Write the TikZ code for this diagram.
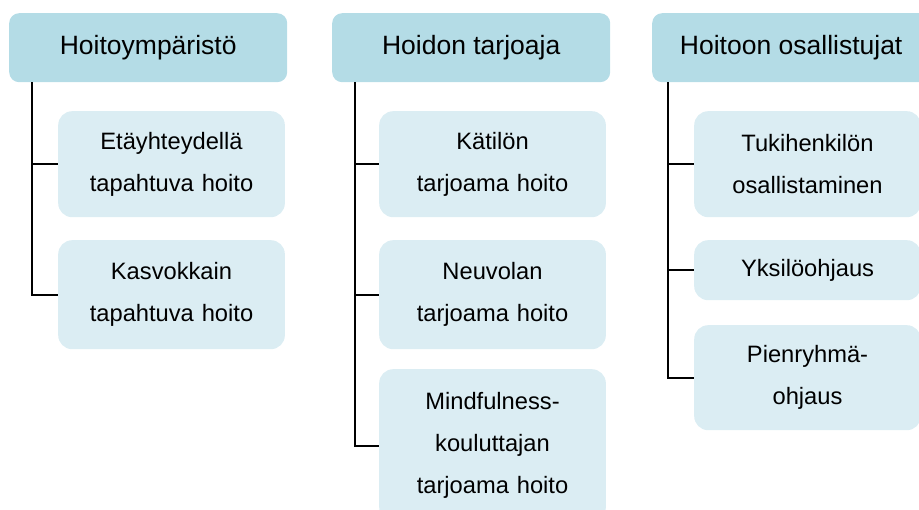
\documentclass[tikz,border=0pt]{standalone}
\usepackage{fontspec}
\setmainfont{Liberation Sans}
\definecolor{headfill}{RGB}{180,220,230}
\definecolor{childfill}{RGB}{219,237,243}
\tikzset{
  head/.style={fill=headfill, rounded corners=10pt, minimum width=278pt, minimum height=69pt, font=\fontsize{26.5}{32}\selectfont, anchor=north west},
  child/.style={fill=childfill, rounded corners=14pt, minimum width=226pt, align=center, font=\fontsize{23.7}{42}\selectfont, anchor=north west, text width=220pt},
  conn/.style={line width=2pt, black}
}
\begin{document}
\begin{tikzpicture}[x=1pt,y=-1pt]
\useasboundingbox (0,0) rectangle (919,510);
\clip (0,0) rectangle (919,510);
% headers
\node[head] (h1) at (9,13) {Hoitoympäristö};
\node[head] (h2) at (332,13) {Hoidon tarjoaja};
\node[head] (h3) at (652,13) {Hoitoon osallistujat};
% column 1
\node[child, minimum height=106pt] (a1) at (58,111) {Etäyhteydellä\\tapahtuva hoito};
\node[child, minimum height=109pt] (a2) at (58,240) {Kasvokkain\\tapahtuva hoito};
% column 2
\node[child, minimum height=106pt] (b1) at (379,111) {Kätilön\\tarjoama hoito};
\node[child, minimum height=109pt] (b2) at (379,240) {Neuvolan\\tarjoama hoito};
\node[child, minimum height=152pt] (b3) at (379,369) {Mindfulness-\\kouluttajan\\tarjoama hoito};
% column 3
\node[child, minimum height=106pt] (c1) at (694,111) {Tukihenkilön\\osallistaminen};
\node[child, minimum height=60pt] (c2) at (694,240) {Yksilöohjaus};
\node[child, minimum height=105pt] (c3) at (694,325) {Pienryhmä-\\ohjaus};
% connectors
\coordinate (t1) at (32,0);
\coordinate (t2) at (355,0);
\coordinate (t3) at (668,0);
\draw[conn] (t1 |- h1.south) |- (a2.west);
\draw[conn] (t1 |- a1.west) -- (a1.west);
\draw[conn] (t2 |- h2.south) |- (b1.west |- 0,446);
\draw[conn] (t2 |- b1.west) -- (b1.west);
\draw[conn] (t2 |- b2.west) -- (b2.west);
\draw[conn] (t3 |- h3.south) |- (c3.west);
\draw[conn] (t3 |- c1.west) -- (c1.west);
\draw[conn] (t3 |- c2.west) -- (c2.west);
\end{tikzpicture}
\end{document}
